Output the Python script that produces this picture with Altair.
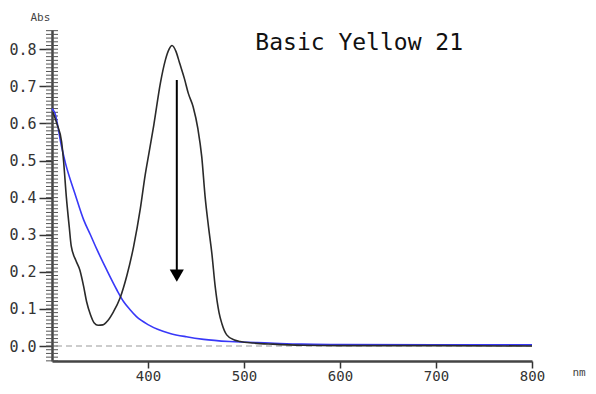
import altair as alt
import pandas as pd

# Black curve (before irradiation): wavelength (nm) and absorbance
black_nm = [301, 305, 310, 312, 315, 318, 320, 325, 329, 333, 336, 340, 344, 348, 353, 358,
            364, 371, 378, 385, 392, 397, 401, 406, 413, 418, 422, 425, 429, 433, 438, 442,
            447, 452, 456, 459.5, 463, 466.5, 470, 474, 477, 482, 490, 496, 510, 530, 560,
            600, 700, 800]
black_abs = [0.63, 0.60, 0.55, 0.50, 0.40, 0.32, 0.27, 0.23, 0.205, 0.16, 0.12, 0.085, 0.062,
             0.056, 0.057, 0.068, 0.092, 0.13, 0.19, 0.268, 0.37, 0.46, 0.52, 0.595, 0.71,
             0.77, 0.80, 0.81, 0.795, 0.762, 0.72, 0.681, 0.645, 0.585, 0.51, 0.402, 0.322,
             0.25, 0.16, 0.09, 0.06, 0.03, 0.016, 0.012, 0.008, 0.005, 0.002, 0.001, 0.001, 0.0]

# Blue curve (after irradiation)
blue_nm = [300, 303, 310, 314, 324, 333, 340, 347, 357, 367.6, 374.5, 381.6, 388, 400.5, 410,
           423, 440, 458, 485, 527, 560, 600, 700, 800]
blue_abs = [0.64, 0.628, 0.537, 0.493, 0.41, 0.34, 0.30, 0.259, 0.205, 0.151, 0.12, 0.097,
            0.079, 0.057, 0.045, 0.034, 0.025, 0.018, 0.012, 0.008, 0.005, 0.004, 0.003, 0.003]

x_ticks = [400, 500, 600, 700, 800]
y_ticks = [0.0, 0.1, 0.2, 0.3, 0.4, 0.5, 0.6, 0.7, 0.8]
minor_ticks = [round(-0.04 + 0.01 * i, 2) for i in range(90)]

title_text = "Basic Yellow 21"
arrow_nm = 430
arrow_top = 0.717
arrow_bottom = 0.205
head_abs = 0.19
title_nm = 620
title_abs = 0.797

X_DOMAIN = [300, 800]
Y_DOMAIN = [-0.0404, 0.8518]
FONT = "DejaVu Sans Mono"


def X():
    return alt.X(
        "nm:Q",
        scale=alt.Scale(domain=X_DOMAIN, nice=False, zero=False),
        axis=alt.Axis(
            values=x_ticks, grid=False, title="nm", titleAngle=0,
            titleX=520, titleY=14, titleAlign="left", titleBaseline="alphabetic",
            titleFont=FONT, titleFontSize=11, titleFontWeight="normal", titleColor="#444",
            labelFont=FONT, labelFontSize=14, labelColor="#333", labelPadding=1,
            labelFlush=False, labelOverlap=False,
            domainColor="#444", domainWidth=2.5, tickColor="#333", tickWidth=1.5, tickSize=7,
            format="d",
        ),
    )


def Y():
    return alt.Y(
        "abs:Q",
        scale=alt.Scale(domain=Y_DOMAIN, nice=False, zero=False),
        axis=alt.Axis(
            values=y_ticks, grid=False, title="Abs", titleAngle=0,
            titleX=-22, titleY=-10, titleAlign="left", titleBaseline="alphabetic",
            titleFont=FONT, titleFontSize=11, titleFontWeight="normal", titleColor="#444",
            labelFont=FONT, labelFontSize=15, labelColor="#333", labelPadding=3,
            labelFlush=False, labelOverlap=False,
            domainColor="#444", domainWidth=2.5, tickColor="#333", tickWidth=1.5, tickSize=13,
            format=".1f",
        ),
    )


black_df = pd.DataFrame({"nm": black_nm, "abs": black_abs})
blue_df = pd.DataFrame({"nm": blue_nm, "abs": blue_abs})
minor_df = pd.DataFrame({"abs": minor_ticks})
zero_df = pd.DataFrame({"abs": [0.0]})
arrow_df = pd.DataFrame({"nm": [arrow_nm], "abs": [arrow_top], "abs2": [arrow_bottom]})
head_df = pd.DataFrame({"nm": [arrow_nm], "abs": [head_abs]})
title_df = pd.DataFrame({"nm": [title_nm], "abs": [title_abs], "t": [title_text]})

minor = alt.Chart(minor_df).mark_rule(color="#555", strokeWidth=1).encode(
    y=Y(), x=alt.value(-6), x2=alt.value(6)
)

zero = alt.Chart(zero_df).mark_rule(color="#999", strokeWidth=1.2, strokeDash=[6, 4]).encode(
    y=Y()
)

blue = alt.Chart(blue_df).mark_line(color="#3838f8", strokeWidth=1.6, interpolate="monotone").encode(
    x=X(), y=Y()
)

black = alt.Chart(black_df).mark_line(color="#2a2a2a", strokeWidth=1.6, interpolate="monotone").encode(
    x=X(), y=Y()
)

arrow = alt.Chart(arrow_df).mark_rule(color="black", strokeWidth=2).encode(
    x=X(), y=Y(), y2="abs2:Q"
)

head = alt.Chart(head_df).mark_point(shape="triangle-down", filled=True, color="black",
                                     size=200, opacity=1).encode(x=X(), y=Y())

title = alt.Chart(title_df).mark_text(font=FONT, fontSize=23, color="#111", align="center",
                                      baseline="alphabetic").encode(x=X(), y=Y(), text="t:N")

chart = alt.layer(minor, zero, blue, black, arrow, head, title).properties(
    width=480, height=331,
    autosize=alt.AutoSizeParams(type="none"),
    padding={"left": 44, "top": 22, "right": 56, "bottom": 25},
).configure(background="white", view=alt.ViewConfig(stroke=None))

chart.save("out.html", embed_options={"renderer": "svg", "actions": False})
